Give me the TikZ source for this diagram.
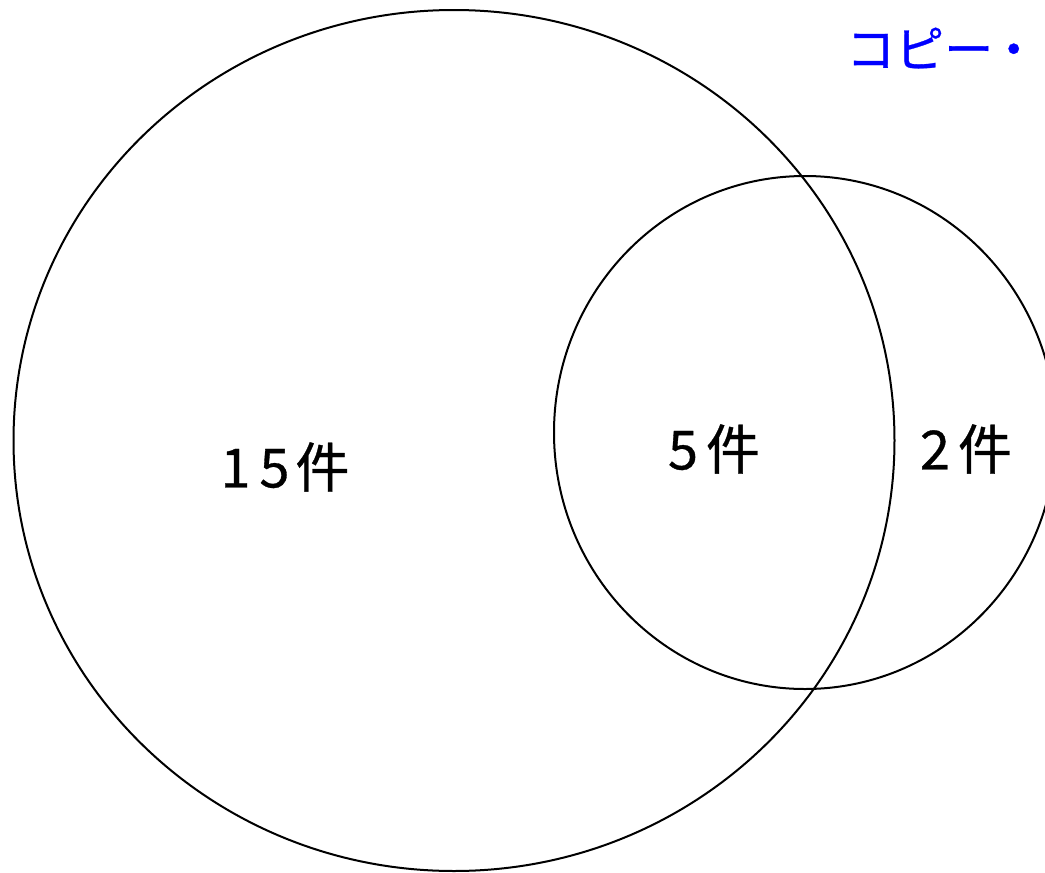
\documentclass[tikz,border=0pt]{standalone}
\usepackage{fontspec}
\setmainfont{Noto Sans CJK JP}
\newfontfamily\jpfont[FakeBold=0.6]{Noto Sans CJK JP}
\definecolor{pureblue}{RGB}{0,0,255}
\tikzset{
  setline/.style={draw=black, line width=2pt},
  countlabel/.style={font=\jpfont\fontsize{54}{62}\selectfont, text=black, inner sep=0pt},
  marklabel/.style={font=\jpfont\fontsize{49}{56}\selectfont, text=pureblue, inner sep=0pt, anchor=west}
}
\begin{document}
\begin{tikzpicture}[x=1pt,y=-1pt]
\useasboundingbox (0,0) rectangle (1045,873);
\clip (0,0) rectangle (1045,873);
\fill[white] (0,0) rectangle (1045,873);
\draw[setline] (454,440.5) ellipse [x radius=440.5, y radius=430.5];
\draw[setline] (805,432.5) ellipse [x radius=251, y radius=256.5];
\node[countlabel] (a) at (285,467) {1\kern9pt5\kern6pt件};
\node[countlabel] (b) at (714,449) {5\kern8pt件};
\node[countlabel] (c) at (966,449) {2\kern8pt件};
\node[marklabel] (m) at (846,48) {コピー\kern-4pt\makebox[0.6em][l]{・}};
\end{tikzpicture}
\end{document}
